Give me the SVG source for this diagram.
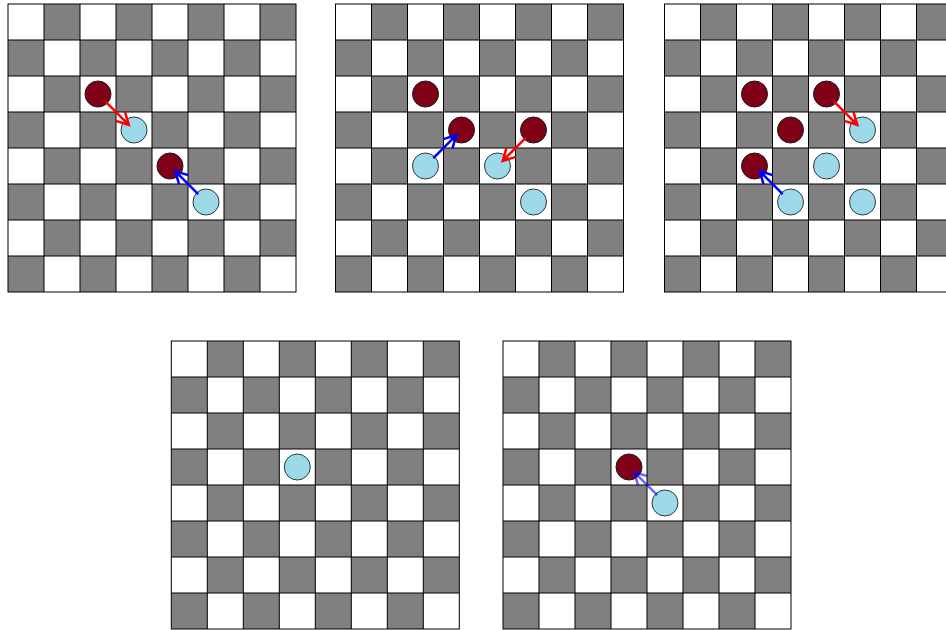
<svg xmlns="http://www.w3.org/2000/svg" width="946" height="630" viewBox="0 0 946 630">
<style>
.red{fill:#800018;stroke:#1a1a1a;stroke-width:1}
.blue{fill:#9ed9ea;stroke:#2a3a40;stroke-width:1}
.ar{fill:none;stroke:#ff0000;stroke-width:2.5}
.ab{fill:none;stroke:#0000ff;stroke-width:2.5}
.al{fill:none;stroke:#0000ff;stroke-width:2.5;stroke-opacity:0.6}
</style>
<defs>
<pattern id="chk" width="72" height="72" patternUnits="userSpaceOnUse">
<rect x="0" y="0" width="72" height="72" fill="#ffffff"/>
<rect x="36" y="0" width="36" height="36" fill="#808080"/>
<rect x="0" y="36" width="36" height="36" fill="#808080"/>
</pattern>
<g id="board">
<rect width="288" height="288" fill="url(#chk)"/>
<path d="M36 0V288M72 0V288M108 0V288M144 0V288M180 0V288M216 0V288M252 0V288M0 36H288M0 72H288M0 108H288M0 144H288M0 180H288M0 216H288M0 252H288" stroke="#000" stroke-width="1" fill="none"/>
<rect width="288" height="288" fill="none" stroke="#000" stroke-width="1"/>
</g>
<marker id="mr" markerUnits="userSpaceOnUse" markerWidth="24" markerHeight="24" refX="0" refY="0" orient="auto" overflow="visible"><path d="M-12,-6.5L0,0L-12,6.5" fill="none" stroke="#ff0000" stroke-width="2.5"/></marker>
<marker id="mb" markerUnits="userSpaceOnUse" markerWidth="24" markerHeight="24" refX="0" refY="0" orient="auto" overflow="visible"><path d="M-12,-6.5L0,0L-12,6.5" fill="none" stroke="#0000ff" stroke-width="2.5"/></marker>
<marker id="ml" markerUnits="userSpaceOnUse" markerWidth="24" markerHeight="24" refX="0" refY="0" orient="auto" overflow="visible"><path d="M-12,-6.5L0,0L-12,6.5" fill="none" stroke="#0000ff" stroke-opacity="0.6" stroke-width="2.5"/></marker>
</defs>
<rect width="946" height="630" fill="#ffffff"/>

<g id="board1" transform="translate(8,4)">
<use href="#board"/>
<g id="b1-pieces">
<circle class="red" cx="90" cy="90" r="13"/>
<circle class="red" cx="162" cy="162" r="13"/>
<circle class="blue" cx="126" cy="126" r="13"/>
<circle class="blue" cx="198" cy="198" r="13"/>
</g>
<g id="b1-connectors">
<path class="ar" d="M97.8,97.8L120.8,120.8" marker-end="url(#mr)"/>
<path class="ab" d="M190.2,190.2L167.2,167.2" marker-end="url(#mb)"/>
</g>
</g>

<g id="board2" transform="translate(335.5,4)">
<use href="#board"/>
<g id="b2-pieces">
<circle class="red" cx="90" cy="90" r="13"/>
<circle class="red" cx="126" cy="126" r="13"/>
<circle class="red" cx="198" cy="126" r="13"/>
<circle class="blue" cx="90" cy="162" r="13"/>
<circle class="blue" cx="162" cy="162" r="13"/>
<circle class="blue" cx="198" cy="198" r="13"/>
</g>
<g id="b2-connectors">
<path class="ab" d="M97.8,154.2L120.8,131.2" marker-end="url(#mb)"/>
<path class="ar" d="M190.2,133.8L167.2,156.8" marker-end="url(#mr)"/>
</g>
</g>

<g id="board3" transform="translate(664.5,4)">
<use href="#board"/>
<g id="b3-pieces">
<circle class="red" cx="90" cy="90" r="13"/>
<circle class="red" cx="162" cy="90" r="13"/>
<circle class="red" cx="126" cy="126" r="13"/>
<circle class="red" cx="90" cy="162" r="13"/>
<circle class="blue" cx="198" cy="126" r="13"/>
<circle class="blue" cx="162" cy="162" r="13"/>
<circle class="blue" cx="126" cy="198" r="13"/>
<circle class="blue" cx="198" cy="198" r="13"/>
</g>
<g id="b3-connectors">
<path class="ar" d="M169.8,97.8L192.8,120.8" marker-end="url(#mr)"/>
<path class="ab" d="M118.2,190.2L95.2,167.2" marker-end="url(#mb)"/>
</g>
</g>

<g id="board4" transform="translate(171.3,341)">
<use href="#board"/>
<g id="b4-pieces">
<circle class="blue" cx="126" cy="126" r="13"/>
</g>
</g>

<g id="board5" transform="translate(503,341)">
<use href="#board"/>
<g id="b5-pieces">
<circle class="red" cx="126" cy="126" r="13"/>
<circle class="blue" cx="162" cy="162" r="13"/>
</g>
<g id="b5-connectors">
<path class="al" d="M154.2,154.2L131.2,131.2" marker-end="url(#ml)"/>
</g>
</g>
</svg>
